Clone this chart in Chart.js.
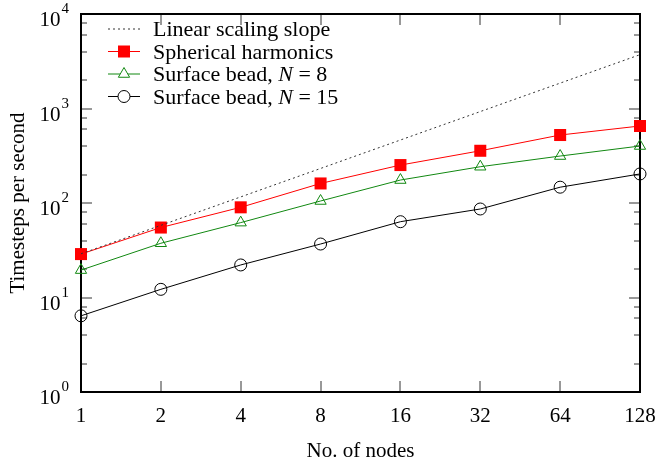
<!DOCTYPE html>
<html><head><meta charset="utf-8">
<script src="https://cdn.jsdelivr.net/npm/chart.js@4/dist/chart.umd.min.js"></script>
<style>html,body{margin:0;padding:0;background:#fff;} canvas{display:block;}</style>
</head><body>
<canvas id="c" width="657" height="463"></canvas>
<script>
const nodes = ['1', '2', '4', '8', '16', '32', '64', '128'];
const linearSlope = [29, 58, 116, 232, 464, 928, 1856, 3712];
const spherical = [28.8, 55, 90, 161, 252, 357, 524, 653];
const bead8 = [19.5, 37.5, 62, 105, 175, 242, 314, 401];
const bead15 = [6.4, 12.2, 22.1, 36.8, 63.4, 86.4, 147, 203];
const yMajorTicks = [1, 10, 100, 1000, 10000];
const yTickExponents = ['0', '1', '2', '3', '4'];
const yMinorMultipliers = [2, 4, 6, 8];

const SERIF = '"Liberation Serif", "Times New Roman", serif';
const RED = '#ff0000', GREEN = '#118811', BLACK = '#000000';

const legendItems = [
  {parts: [['Linear scaling slope', false]], color: '#333', dash: [2, 3], marker: null},
  {parts: [['Spherical harmonics', false]], color: RED, dash: [], marker: 'rect'},
  {parts: [['Surface bead, ', false], ['N', true], [' = 8', false]], color: GREEN, dash: [], marker: 'triangle'},
  {parts: [['Surface bead, ', false], ['N', true], [' = 15', false]], color: BLACK, dash: [], marker: 'circle'}
];

function drawMarker(ctx, type, x, y, color) {
  ctx.save();
  ctx.setLineDash([]);
  ctx.lineWidth = 1;
  ctx.strokeStyle = color;
  ctx.fillStyle = color;
  if (type === 'rect') {
    ctx.fillRect(x - 6, y - 6, 12, 12);
  } else if (type === 'triangle') {
    const r = 6.5;
    ctx.beginPath();
    ctx.moveTo(x, y - r);
    ctx.lineTo(x + r * 0.866, y + r / 2);
    ctx.lineTo(x - r * 0.866, y + r / 2);
    ctx.closePath();
    ctx.fillStyle = '#fff';
    ctx.fill();
    ctx.stroke();
  } else if (type === 'circle') {
    ctx.beginPath();
    ctx.arc(x, y, 6, 0, Math.PI * 2);
    ctx.fillStyle = '#fff';
    ctx.fill();
    ctx.stroke();
  }
  ctx.restore();
}

const framePlugin = {
  id: 'gnuplotFrame',
  beforeDatasetsDraw(chart) {
    const ctx = chart.ctx, a = chart.chartArea;
    const xs = chart.scales.x, ys = chart.scales.y;
    ctx.save();
    // ticks
    ctx.strokeStyle = '#333';
    ctx.lineWidth = 1;
    ctx.beginPath();
    yMajorTicks.forEach((v, i) => {
      const y = Math.round(ys.getPixelForValue(v));
      ctx.moveTo(a.left, y); ctx.lineTo(a.left + 11, y);
      ctx.moveTo(a.right, y); ctx.lineTo(a.right - 11, y);
      if (i < yMajorTicks.length - 1) {
        yMinorMultipliers.forEach(m => {
          const ym = Math.round(ys.getPixelForValue(v * m));
          ctx.moveTo(a.left, ym); ctx.lineTo(a.left + 6, ym);
          ctx.moveTo(a.right, ym); ctx.lineTo(a.right - 6, ym);
        });
      }
    });
    nodes.forEach((n, i) => {
      const x = Math.round(xs.getPixelForValue(i));
      ctx.moveTo(x, a.bottom); ctx.lineTo(x, a.bottom - 11);
      ctx.moveTo(x, a.top); ctx.lineTo(x, a.top + 11);
    });
    ctx.stroke();
    // frame
    ctx.strokeStyle = '#000';
    ctx.lineWidth = 2;
    ctx.strokeRect(a.left, a.top, a.right - a.left, a.bottom - a.top);

    // tick labels
    ctx.fillStyle = '#000';
    ctx.font = '21px ' + SERIF;
    ctx.textAlign = 'center';
    ctx.textBaseline = 'alphabetic';
    nodes.forEach((n, i) => {
      const x = xs.getPixelForValue(i);
      ctx.fillText(n, x, a.bottom + 30);
    });
    yMajorTicks.forEach((v, i) => {
      const y = ys.getPixelForValue(v);
      ctx.font = '15px ' + SERIF;
      const ew = ctx.measureText(yTickExponents[i]).width;
      ctx.textAlign = 'right';
      ctx.fillText(yTickExponents[i], a.left - 12, y - 1);
      ctx.font = '21px ' + SERIF;
      ctx.fillText('10', a.left - 12 - ew - 1, y + 12);
    });
    // axis titles
    ctx.font = '21px ' + SERIF;
    ctx.textAlign = 'center';
    ctx.fillText('No. of nodes', (a.left + a.right) / 2, 457);
    ctx.save();
    ctx.translate(24, (a.top + a.bottom) / 2);
    ctx.rotate(-Math.PI / 2);
    ctx.fillText('Timesteps per second', 0, 0);
    ctx.restore();
    ctx.restore();
  },
  afterDatasetsDraw(chart) {
    const ctx = chart.ctx;
    ctx.save();
    legendItems.forEach((it, i) => {
      const base = 36 + i * 22.5;
      const cy = base - 7;
      ctx.beginPath();
      ctx.strokeStyle = it.color;
      ctx.lineWidth = 1;
      ctx.setLineDash(it.dash);
      ctx.moveTo(108, cy); ctx.lineTo(140, cy);
      ctx.stroke();
      ctx.setLineDash([]);
      if (it.marker) drawMarker(ctx, it.marker, 124, cy, it.color);
      let x = 153;
      ctx.fillStyle = '#000';
      ctx.textAlign = 'left';
      ctx.textBaseline = 'alphabetic';
      it.parts.forEach(([t, ital]) => {
        ctx.font = (ital ? 'italic ' : '') + '22px ' + SERIF;
        ctx.fillText(t, x, base);
        x += ctx.measureText(t).width;
      });
    });
    ctx.restore();
  }
};

new Chart(document.getElementById('c'), {
  type: 'line',
  data: {
    labels: nodes,
    datasets: [
      {label: 'Linear scaling slope', data: linearSlope, borderColor: '#333', borderWidth: 1,
       borderDash: [2, 3], pointRadius: 0, fill: false, tension: 0, clip: false},
      {label: 'Spherical harmonics', data: spherical, borderColor: RED, borderWidth: 1,
       pointStyle: 'rect', pointRadius: 8.5, pointBackgroundColor: RED, pointBorderColor: RED,
       pointBorderWidth: 0, fill: false, tension: 0, clip: false},
      {label: 'Surface bead, N = 8', data: bead8, borderColor: GREEN, borderWidth: 1,
       pointStyle: 'triangle', pointRadius: 6.5, pointBackgroundColor: 'rgba(255,255,255,0)',
       pointBorderColor: GREEN, pointBorderWidth: 1, fill: false, tension: 0, clip: false},
      {label: 'Surface bead, N = 15', data: bead15, borderColor: BLACK, borderWidth: 1,
       pointStyle: 'circle', pointRadius: 6, pointBackgroundColor: 'rgba(255,255,255,0)',
       pointBorderColor: BLACK, pointBorderWidth: 1, fill: false, tension: 0, clip: false}
    ]
  },
  options: {
    responsive: false,
    animation: false,
    devicePixelRatio: 1,
    layout: {padding: {left: 81, right: 17, top: 14, bottom: 71}},
    plugins: {legend: {display: false}, tooltip: {enabled: false}},
    scales: {
      x: {type: 'category', display: false, offset: false},
      y: {type: 'logarithmic', display: false, min: 1, max: 10000}
    }
  },
  plugins: [framePlugin]
});
</script>
</body></html>
